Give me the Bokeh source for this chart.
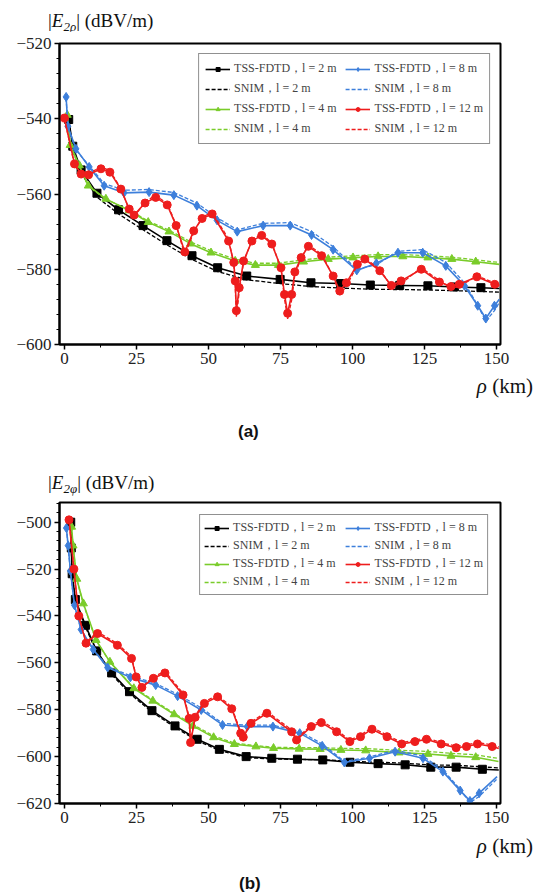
from bokeh.plotting import figure
from bokeh.models import Range1d, FixedTicker, Legend, LegendItem, Div
from bokeh.layouts import column
from bokeh.embed import file_html
from bokeh.resources import INLINE

# ---------------- data: panel (a) |E2rho| ----------------
a_tss2_x = [1.5, 2.9, 5.8, 11.3, 18.8, 27.3, 35.6, 44.3, 53.2, 63.3, 74.9, 85.6, 95.9, 106.2, 116.4, 126.2, 135.4, 144.6, 151]
a_tss2_y = [-540.2, -547.3, -553.6, -559.8, -564.2, -568.4, -572.4, -576.4, -579.6, -581.8, -582.7, -583.6, -583.8, -584.2, -584.3, -584.4, -584.7, -584.9, -585.1]
a_snim2_y = [-540.5, -548.0, -554.5, -560.8, -565.3, -569.5, -573.5, -577.4, -580.6, -582.8, -583.8, -584.6, -585.0, -585.3, -585.4, -585.5, -585.7, -585.9, -586.1]

a_tss4_x = [1.0, 2.0, 5.2, 8.3, 14.4, 22.5, 29.1, 36.3, 43.8, 50.9, 59.3, 66.3, 74.3, 83.0, 91.6, 100.2, 108.9, 117.5, 126.2, 134.5, 142.8, 151]
a_tss4_y = [-539.0, -547.0, -552.4, -557.8, -561.3, -564.4, -567.5, -570.0, -573.2, -575.6, -577.8, -578.9, -578.9, -578.0, -577.3, -576.9, -576.6, -576.6, -576.9, -577.3, -578.0, -578.7]
a_snim4_y = [-539.3, -547.5, -552.8, -558.0, -561.4, -564.3, -567.2, -569.6, -572.7, -575.1, -577.3, -578.4, -578.4, -577.5, -576.8, -576.4, -576.1, -576.1, -576.4, -576.8, -577.5, -578.2]

a_tss8_x = [0.6, 1.2, 4.0, 8.6, 13.8, 20.7, 29.4, 38.0, 46.0, 53.0, 60.0, 69.0, 78.4, 85.8, 93.3, 101.5, 108.3, 115.8, 124.4, 132.4, 138.9, 143.5, 146.3, 149.3, 151]
a_tss8_y = [-534.2, -542.0, -548.0, -552.8, -557.8, -559.7, -559.5, -560.3, -563.1, -567.0, -570.0, -568.4, -568.4, -570.9, -574.8, -580.3, -578.4, -575.6, -575.6, -579.1, -584.4, -589.7, -593.1, -589.7, -588.0]
a_snim8_y = [-534.5, -542.3, -548.3, -552.5, -557.2, -559.0, -558.8, -559.6, -562.4, -566.3, -569.5, -567.8, -567.6, -570.0, -574.0, -580.0, -578.8, -575.2, -574.8, -578.2, -583.6, -589.6, -593.8, -591.0, -588.8]

a_tss12_x = [0.0, 3.5, 5.8, 8.4, 12.7, 15.8, 19.6, 22.5, 24.2, 28.0, 31.7, 35.7, 38.8, 41.8, 44.9, 47.8, 51.3, 57.0, 58.8, 59.3,
             59.7, 60.7, 62.2, 65.1, 68.5, 72.0, 75.2, 76.4, 77.5, 78.9, 80.0, 82.2, 84.7, 89.3, 93.3, 95.6, 97.9, 101.7, 104.3, 109.5,
             113.5, 116.9, 123.9, 130.2, 134.2, 137.1, 143.2, 149.4, 151]
a_tss12_y = [-539.8, -552.0, -554.7, -554.9, -553.3, -554.2, -558.7, -564.0, -565.6, -562.4, -560.9, -562.9, -568.4, -575.4, -569.8, -566.5, -565.3, -572.5, -578.2, -583.1,
             -591.0, -584.9, -577.8, -572.5, -571.0, -573.3, -579.6, -586.7, -591.7, -586.7, -580.7, -576.9, -573.9, -576.4, -581.8, -585.8, -583.6, -578.7, -577.3, -580.4,
             -584.3, -583.1, -580.0, -583.4, -584.6, -584.0, -582.0, -584.0, -584.5]
a_snim12_y = [-540.0, -552.3, -554.9, -554.6, -552.8, -553.8, -558.5, -564.2, -566.2, -562.0, -560.4, -562.5, -568.2, -576.2, -570.2, -566.2, -564.8, -572.0, -578.5, -584.5,
              -592.8, -586.0, -578.2, -572.2, -570.6, -573.0, -579.8, -587.8, -593.2, -588.2, -581.5, -577.0, -573.5, -576.0, -581.8, -586.8, -584.5, -579.0, -577.0, -580.0,
              -584.6, -583.8, -579.6, -583.0, -585.0, -584.6, -581.8, -583.6, -584.2]

# ---------------- data: panel (b) |E2phi| ----------------
b_tss2_x = [2.2, 2.4, 2.7, 3.8, 7.3, 11.2, 16.4, 22.6, 30.4, 38.4, 46.1, 53.8, 63.1, 72.0, 80.9, 89.7, 99.1, 108.9, 118.3, 127.2, 136.0, 145.1, 150.8]
b_tss2_y = [-500.0, -511.0, -522.0, -533.0, -544.0, -554.9, -564.3, -572.3, -580.4, -586.9, -592.6, -596.9, -600.0, -600.7, -601.1, -601.4, -602.4, -603.0, -603.5, -604.5, -604.5, -605.4, -605.7]
b_snim2_y = [-500.0, -511.6, -522.4, -533.5, -544.6, -555.6, -565.0, -573.0, -581.0, -587.5, -593.2, -597.4, -600.4, -601.0, -601.2, -601.3, -602.0, -602.4, -602.8, -603.6, -603.7, -604.4, -604.8]

b_tss4_x = [2.5, 3.0, 4.3, 6.6, 11.0, 15.8, 24.1, 30.7, 38.1, 44.6, 51.8, 59.0, 66.5, 72.6, 81.5, 88.8, 96.0, 104.6, 116.2, 126.2, 134.2, 142.8, 150.7]
b_tss4_y = [-502.0, -510.0, -524.2, -534.7, -550.3, -559.6, -570.9, -576.2, -582.0, -586.9, -591.8, -594.7, -595.7, -596.4, -596.7, -596.8, -597.2, -597.4, -598.3, -598.9, -599.7, -600.3, -602.1]
b_snim4_y = [-502.0, -510.2, -524.5, -535.0, -550.5, -559.6, -570.6, -575.8, -581.5, -586.3, -591.2, -594.2, -595.3, -596.0, -596.2, -596.2, -596.5, -596.6, -597.3, -597.8, -598.6, -599.2, -600.8]

b_tss8_x = [0.7, 1.3, 2.1, 3.5, 5.8, 10.0, 15.0, 22.9, 31.7, 39.3, 47.5, 54.9, 63.5, 72.4, 81.7, 89.5, 97.2, 105.9, 114.8, 124.5, 131.4, 137.4, 140.8, 144.0, 150.2]
b_tss8_y = [-502.5, -510.0, -520.8, -535.4, -545.8, -554.3, -562.0, -566.2, -569.5, -574.2, -580.1, -586.5, -587.2, -587.2, -590.0, -595.4, -602.5, -600.7, -597.9, -600.7, -606.4, -614.5, -618.9, -615.6, -608.5]
b_snim8_y = [-502.5, -510.3, -521.2, -535.8, -546.0, -554.2, -561.5, -565.5, -568.8, -573.4, -579.2, -585.8, -586.6, -586.6, -589.2, -594.6, -602.0, -600.2, -597.2, -599.8, -605.6, -614.0, -619.6, -617.0, -609.5]

b_tss12_x = [1.6, 3.3, 5.0, 7.5, 11.5, 18.4, 23.3, 24.9, 26.9, 30.9, 34.9, 41.2, 43.3, 43.8, 45.4, 48.6, 53.2, 58.1, 61.2, 62.1,
             64.8, 70.3, 78.9, 80.6, 85.7, 89.2, 94.5, 99.1, 102.8, 106.8, 112.0, 117.1, 121.7, 125.7, 130.8, 136.0, 139.6, 143.4, 148.5, 150.8]
b_tss12_y = [-499.0, -520.0, -540.0, -551.6, -547.5, -552.5, -558.1, -566.0, -570.5, -566.6, -564.3, -573.7, -583.7, -594.0, -583.2, -577.3, -574.5, -579.6, -590.0, -591.7,
             -585.8, -581.5, -589.4, -592.9, -587.2, -585.5, -589.4, -593.6, -591.5, -588.3, -591.5, -594.6, -593.6, -592.6, -594.6, -596.2, -595.7, -594.6, -595.7, -596.5]
b_snim12_y = [-499.0, -520.2, -540.3, -551.2, -546.8, -551.8, -557.4, -565.5, -570.2, -566.0, -563.6, -573.0, -583.0, -593.5, -582.6, -576.6, -573.8, -578.9, -589.6, -591.4,
              -585.2, -580.8, -588.6, -592.4, -586.5, -584.8, -588.6, -593.0, -590.8, -587.6, -590.8, -594.0, -593.0, -592.0, -594.0, -595.6, -595.0, -594.0, -595.0, -595.8]

x_ticks = [0, 25, 50, 75, 100, 125, 150]
x_minor = [12.5, 37.5, 62.5, 87.5, 112.5, 137.5]
a_yticks = [-600, -580, -560, -540, -520]
b_yticks = [-620, -600, -580, -560, -540, -520, -500]

lengths = ["2", "4", "8", "12"]
colors = {"2": "#000000", "4": "#7acc2a", "8": "#3d7fdb", "12": "#ee1d1d"}
markers = {"2": "square", "4": "triangle", "8": "diamond", "12": "circle"}
msize = {"2": 8, "4": 8, "8": 9, "12": 8}

SERIF = "Liberation Serif"
W = 536


def panel(series, y_lo, y_hi, yticks, yminor, height, borders, row_gap, col_pad, leg_margin, leg_pad):
    left, right, top, bottom = borders
    p = figure(width=W, height=height, output_backend="svg", toolbar_location=None,
               x_range=Range1d(-1.7, 151.4), y_range=Range1d(y_lo, y_hi),
               min_border_left=left, min_border_right=right,
               min_border_top=top, min_border_bottom=bottom)
    p.grid.visible = False
    p.outline_line_color = "black"
    p.outline_line_width = 2
    p.background_fill_color = "white"
    p.border_fill_color = "white"

    p.xaxis.ticker = FixedTicker(ticks=x_ticks, minor_ticks=x_minor)
    p.yaxis.ticker = FixedTicker(ticks=yticks, minor_ticks=yminor)
    p.yaxis.major_label_overrides = {t: "\u2212" + str(abs(t)) for t in yticks}
    for ax in (p.xaxis, p.yaxis):
        ax.axis_line_width = 2
        ax.axis_line_color = "black"
        ax.major_tick_line_color = "black"
        ax.minor_tick_line_color = "black"
        ax.major_tick_line_width = 1.5
        ax.major_tick_in = 0
        ax.major_tick_out = 5
        ax.minor_tick_in = 0
        ax.minor_tick_out = 3
        ax.major_label_text_font = SERIF
        ax.major_label_text_font_size = "17px"
        ax.major_label_text_color = "#222222"
    p.yaxis.major_label_standoff = 3
    p.xaxis.major_label_standoff = 3

    items_tss = {}
    items_snim = {}
    for L in lengths:
        xs, ty, sy = series[L]
        c = colors[L]
        rs = p.line(xs, sy, line_color=c, line_width=1.3, line_dash="4 2")
        rl = p.line(xs, ty, line_color=c, line_width=1.6)
        rm = p.scatter(xs[:-1], ty[:-1], marker=markers[L], size=msize[L],
                       fill_color=c, line_color=c)
        tail = col_pad if L in ("2", "4") else ""
        items_tss[L] = LegendItem(label=f"TSS-FDTD\uff0cl = {L} m" + tail, renderers=[rl, rm])
        items_snim[L] = LegendItem(label=f"SNIM\uff0cl = {L} m" + tail, renderers=[rs])
    order = [items_tss["2"], items_snim["2"], items_tss["4"], items_snim["4"],
             items_tss["8"], items_snim["8"], items_tss["12"], items_snim["12"]]
    leg = Legend(items=order, nrows=4, location="top_right", margin=leg_margin,
                 label_text_font=SERIF, label_text_font_size="12px",
                 glyph_width=25, glyph_height=10, label_height=10,
                 label_standoff=4, spacing=row_gap, padding=leg_pad,
                 border_line_color="#222222", border_line_width=1.5,
                 background_fill_alpha=1.0)
    p.add_layout(leg)
    return p


def span(html, top, size, lh, left=None, right=None, family=SERIF, weight="normal"):
    pos = f"left:{left}px;" if left is not None else f"right:{right}px;"
    return (f'<span style="position:absolute;{pos}top:{top}px;font-family:\'{family}\';'
            f'font-size:{size}px;line-height:{lh}px;white-space:nowrap;font-weight:{weight};color:#111">{html}</span>')


def box(h, parts):
    inner = "".join(parts)
    return Div(text=f'<div style="position:relative;width:{W}px;height:{h}px;margin:0;padding:0;overflow:visible">{inner}</div>',
               width=W, height=h, styles={"margin": "0", "padding": "0"})


def ytitle(sub):
    return f'|<i>E</i><sub style="font-size:13px;vertical-align:-4px"><i>2{sub}</i></sub>| (dBV/m)'


RHO = '<i>\u03c1</i> (km)'

d_top = box(31, [span(ytitle("\u03c1"), top=10, size=19, lh=22, left=48)])

pa = panel({"2": (a_tss2_x, a_tss2_y, a_snim2_y), "4": (a_tss4_x, a_tss4_y, a_snim4_y),
            "8": (a_tss8_x, a_tss8_y, a_snim8_y), "12": (a_tss12_x, a_tss12_y, a_snim12_y)},
           -600, -520, a_yticks, list(range(-600, -519, 4)), 341, (59, 33, 12, 28),
           3, "\u00a0\u00a0", 10, 6)

d_mid = box(123, [span(RHO, top=2, size=21, lh=24, right=3),
                  span("(a)", top=50, size=17, lh=20, left=238, family="Liberation Sans", weight="bold"),
                  span(ytitle("\u03c6"), top=100, size=19, lh=22, left=48)])

pb = panel({"2": (b_tss2_x, b_tss2_y, b_snim2_y), "4": (b_tss4_x, b_tss4_y, b_snim4_y),
            "8": (b_tss8_x, b_tss8_y, b_snim8_y), "12": (b_tss12_x, b_tss12_y, b_snim12_y)},
           -620, -491.6, b_yticks, list(range(-620, -491, 4)), 335, (52, 36, 7, 27),
           1, "\u00a0\u00a0\u00a0", 12, 4)

d_bot = box(63, [span(RHO, top=4, size=21, lh=24, right=3),
                 span("(b)", top=45, size=17, lh=18, left=239, family="Liberation Sans", weight="bold")])

layout = column(d_top, pa, d_mid, pb, d_bot, spacing=0)
open("out.html", "w").write(file_html(layout, INLINE))
